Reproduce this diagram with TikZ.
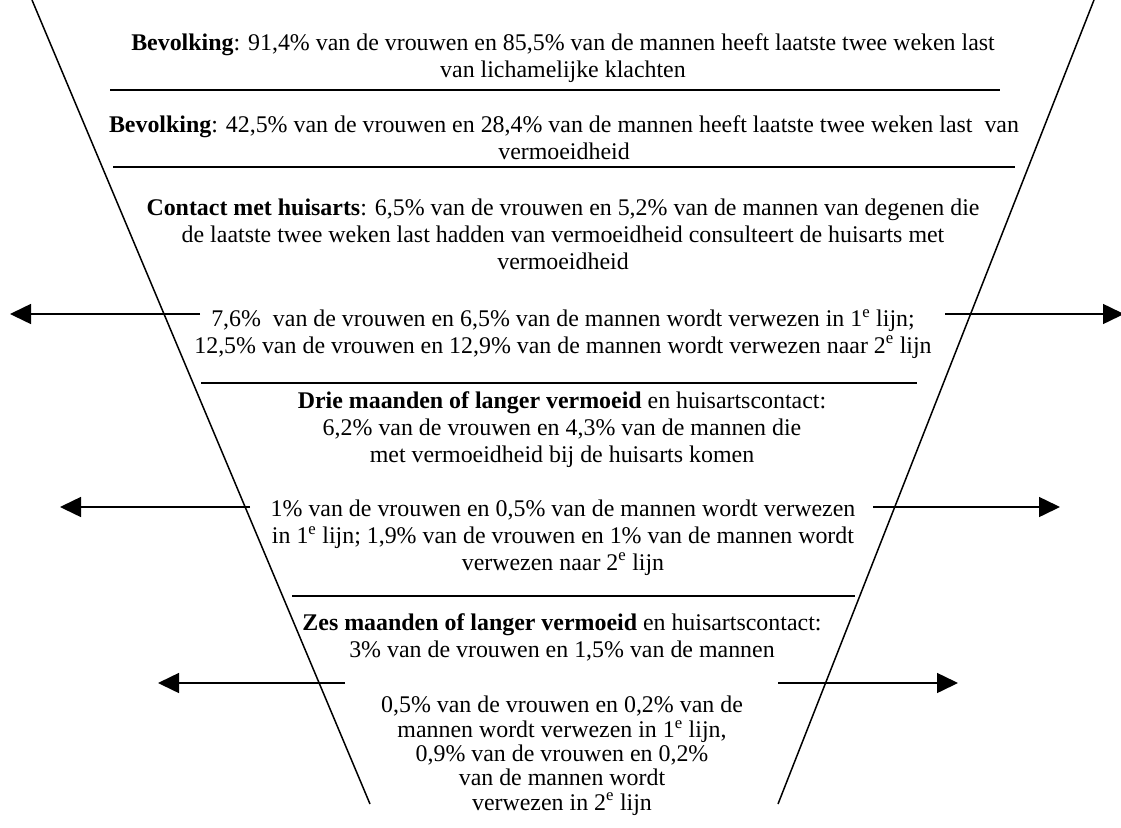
\documentclass[tikz,border=0pt]{standalone}
\usepackage{fontspec}
\setmainfont{Liberation Serif}
\usetikzlibrary{arrows.meta}
\begin{document}
\begin{tikzpicture}[x=1pt,y=-1pt,
  txt/.style={align=center, anchor=base, inner sep=0pt, font=\fontsize{23.9}{26.7}\selectfont},
  txtb/.style={txt, font=\fontsize{23.9}{24.3}\selectfont},
  rule/.style={line width=1.6pt},
  funnel/.style={line width=1.5pt},
  arr/.style={line width=1.5pt, -{Triangle[length=21pt,width=20pt]}}]
\useasboundingbox (0,0) rectangle (1121,827);

% funnel sides
\coordinate (fl1) at (32,0);
\coordinate (fl2) at (370,804);
\coordinate (fr1) at (1094,0);
\coordinate (fr2) at (778,804);
\draw[funnel] (fl1) -- (fl2);
\draw[funnel] (fr1) -- (fr2);

% horizontal rules
\coordinate (r1a) at (110,90);  \coordinate (r1b) at (1000,90);
\coordinate (r2a) at (113,167); \coordinate (r2b) at (1015,167);
\coordinate (r3a) at (201,383); \coordinate (r3b) at (917,383);
\coordinate (r4a) at (292,596); \coordinate (r4b) at (855,596);
\draw[rule] (r1a) -- (r1b);
\draw[rule] (r2a) -- (r2b);
\draw[rule] (r3a) -- (r3b);
\draw[rule] (r4a) -- (r4b);

% arrows
\coordinate (a1l) at (200,314); \coordinate (a1lt) at (10,314);
\coordinate (a1r) at (945,314); \coordinate (a1rt) at (1124,314);
\coordinate (a2l) at (250,507); \coordinate (a2lt) at (60,507);
\coordinate (a2r) at (873,507); \coordinate (a2rt) at (1060,507);
\coordinate (a3l) at (345,683); \coordinate (a3lt) at (158,683);
\coordinate (a3r) at (778,683); \coordinate (a3rt) at (958,683);
\draw[arr] (a1l) -- (a1lt);
\draw[arr] (a1r) -- (a1rt);
\draw[arr] (a2l) -- (a2lt);
\draw[arr] (a2r) -- (a2rt);
\draw[arr] (a3l) -- (a3lt);
\draw[arr] (a3r) -- (a3rt);

% texts (anchor=base is the baseline of the last line)
\node[txt] (b1) at (563,77) {\textbf{Bevolking}: 91,4\% van de vrouwen en 85,5\% van de mannen heeft laatste twee weken last\\van lichamelijke klachten};
\node[txt] (b2) at (564,159) {\textbf{Bevolking}: 42,5\% van de vrouwen en 28,4\% van de mannen heeft laatste twee weken last\ \ van\\vermoeidheid};
\node[txt] (b3) at (563,269) {\textbf{Contact met huisarts}: 6,5\% van de vrouwen en 5,2\% van de mannen van degenen die\\de laatste twee weken last hadden van vermoeidheid consulteert de huisarts met\\vermoeidheid};
\node[txt] (b4) at (563,353) {7,6\%\ \ van de vrouwen en 6,5\% van de mannen wordt verwezen in 1\textsuperscript{e} lijn;\\12,5\% van de vrouwen en 12,9\% van de mannen wordt verwezen naar 2\textsuperscript{e} lijn};
\node[txt] (b5) at (562,462) {\textbf{Drie maanden of langer vermoeid} en huisartscontact:\\6,2\% van de vrouwen en 4,3\% van de mannen die\\met vermoeidheid bij de huisarts komen};
\node[txt] (b6) at (563,570) {1\% van de vrouwen en 0,5\% van de mannen wordt verwezen\\in 1\textsuperscript{e} lijn; 1,9\% van de vrouwen en 1\% van de mannen wordt\\verwezen naar 2\textsuperscript{e} lijn};
\node[txt] (b7) at (562,657) {\textbf{Zes maanden of langer vermoeid} en huisartscontact:\\3\% van de vrouwen en 1,5\% van de mannen};
\node[txtb] (b8) at (562,810) {0,5\% van de vrouwen en 0,2\% van de\\mannen wordt verwezen in 1\textsuperscript{e} lijn,\\0,9\% van de vrouwen en 0,2\%\\van de mannen wordt\\verwezen in 2\textsuperscript{e} lijn};
\end{tikzpicture}
\end{document}
